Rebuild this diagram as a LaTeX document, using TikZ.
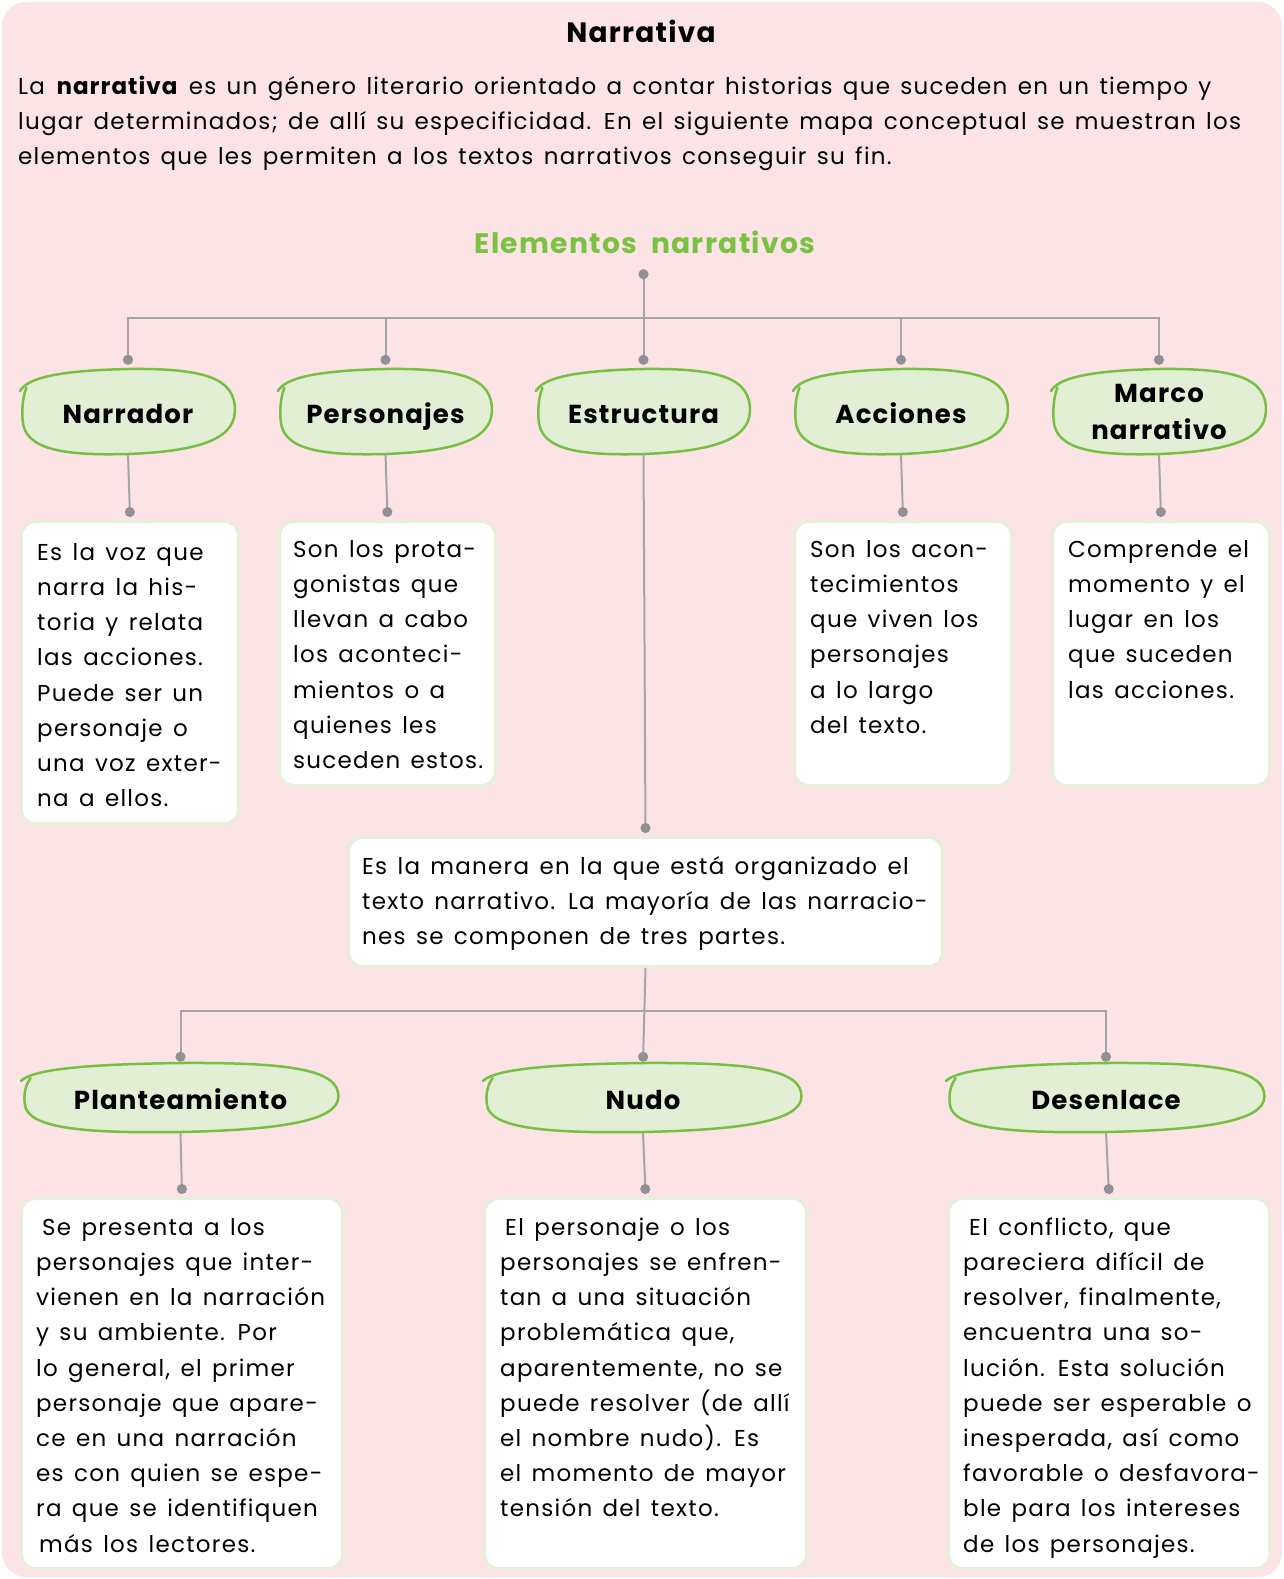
\documentclass[tikz,border=0pt]{standalone}
\usepackage{fontspec}
\setmainfont{Poppins}[LetterSpace=5.5, WordSpace=1.4, BoldFeatures={LetterSpace=4.5}]
\usetikzlibrary{arrows.meta}
\definecolor{pinkbg}{HTML}{FCE4E6}
\definecolor{gfill}{HTML}{E2EFD5}
\definecolor{gline}{HTML}{78C043}
\definecolor{wline}{HTML}{E4F0D9}
\definecolor{cline}{HTML}{A4A4A9}
\definecolor{cdotc}{HTML}{909095}
\definecolor{gtitle}{HTML}{7BC142}
\newcommand\btxt{\fontsize{23}{35.2}\selectfont}
\newcommand\fs{\rule{0pt}{30pt}}
\tikzset{
  conn/.style={draw=cline, line width=2pt},
  ndot/.tip={Circle[length=10pt,width=10pt,color=cdotc]},
  blobline/.style={fill=gfill, draw=gline, line width=2.5pt, line cap=round, line join=round},
  gbox/.style={inner sep=0pt, align=center, font=\fontsize{26}{37}\selectfont\bfseries,
     text height=28pt, text depth=5pt},
  wbox/.style={draw=wline, line width=3pt, fill=white, rounded corners=14pt,
     anchor=north west, inner sep=0pt},
  wtext/.style={anchor=north west, inner sep=0pt, align=left, font=\btxt},
}
\newcommand\gnode[7][]{%
  \pgfmathsetmacro\bw{#5-#3}\pgfmathsetmacro\bh{#6-#4}%
  \pgfmathsetmacro\bcx{(#3+#5)/2}\pgfmathsetmacro\bcy{(#4+#6)/2}%
  \begin{scope}[shift={(#3,#4)}, x=\bw pt, y=-\bh pt]
    \draw[blobline] (0.0,0.26) .. controls (0.03,0.12) and (0.15,0.02) .. (0.5,0.0)
      .. controls (0.85,-0.01) and (1.0,0.1) .. (0.995,0.5)
      .. controls (0.99,0.85) and (0.8,0.97) .. (0.5,1.0)
      .. controls (0.2,1.02) and (0.02,0.95) .. (0.012,0.6)
      .. controls (0.008,0.45) and (0.014,0.32) .. (0.03,0.22);
  \end{scope}
  \node[gbox, minimum width=\bw pt, minimum height=\bh pt, #1] (#2) at (\bcx,\bcy) {#7};
}
\begin{document}
\begin{tikzpicture}[x=1pt,y=-1pt]
\useasboundingbox (0,0) rectangle (1284,1579);
\fill[pinkbg, rounded corners=24pt] (2,2) rectangle (1282,1577);

% title and intro
\node[anchor=base, inner sep=0pt, font=\fontsize{28}{34}\selectfont\bfseries] (title) at (641,43) {Narrativa};
\node[wtext] (para) at (18,64) {\fs La \textbf{narrativa} es un género literario orientado a contar historias que suceden en un tiempo y\\
lugar determinados; de allí su especificidad. En el siguiente mapa conceptual se muestran los\\
elementos que les permiten a los textos narrativos conseguir su fin.};

\node[anchor=base, inner sep=0pt, text depth=0pt, text=gtitle, font=\fontsize{28.2}{34}\selectfont\bfseries] (elem) at (645,253) {Elementos\hspace{14pt}narrativos};

% first level
\gnode{narr}{20}{369}{236}{454}{Narrador}
\gnode{pers}{278}{369}{493}{454}{Personajes}
\gnode{estr}{536}{369}{751}{454}{Estructura}
\gnode{acc}{793}{369}{1009}{454}{Acciones}
\gnode[text height=, text depth=]{marco}{1051}{369}{1267}{454}{Marco\\narrativo}

\coordinate (ht) at (644,318);
\draw[conn, ndot-ndot] ([yshift=4pt]narr.north) |- (ht) -| ([yshift=4pt]marco.north);
\draw[conn, -ndot] (pers.north |- ht) -- ([yshift=4pt]pers.north);
\draw[conn, -ndot] (acc.north |- ht) -- ([yshift=4pt]acc.north);
\draw[conn, ndot-ndot] ([yshift=-16pt]elem.south -| estr.north) -- ([yshift=4pt]estr.north);

% description boxes, first level
\node[wbox, minimum width=217pt, minimum height=302pt] (dnarr) at (20,520) {};
\node[wbox, minimum width=216pt, minimum height=264pt] (dpers) at (278,520) {};
\node[wbox, minimum width=217pt, minimum height=264pt] (dacc) at (793,520) {};
\node[wbox, minimum width=217pt, minimum height=264pt] (dmarco) at (1051,520) {};
\node[wbox, minimum width=594pt, minimum height=129pt] (destr) at (347,836) {};

\draw[conn, -ndot] (narr.south) -- ([yshift=3pt]dnarr.north);
\draw[conn, -ndot] (pers.south) -- ([yshift=3pt]dpers.north);
\draw[conn, -ndot] (acc.south) -- ([yshift=3pt]dacc.north);
\draw[conn, -ndot] (marco.south) -- ([yshift=3pt]dmarco.north);
\draw[conn, -ndot] (estr.south) -- ([yshift=3pt]destr.north);

\node[wtext] (tnarr) at (37,530) {\fs Es la voz que\\narra la his-\\toria y relata\\las acciones.\\Puede ser un\\personaje o\\una voz exter-\\na a ellos.};
\node[wtext] (tpers) at (293,527) {\fs Son los prota-\\gonistas que\\llevan a cabo\\los aconteci-\\mientos o a\\quienes les\\suceden estos.};
\node[wtext] (tacc) at (810,527) {\fs Son los acon-\\tecimientos\\que viven los\\personajes\\a lo largo\\del texto.};
\node[wtext] (tmarco) at (1068,527) {\fs Comprende el\\momento y el\\lugar en los\\que suceden\\las acciones.};
\node[wtext] (testr) at (362,844) {\fs Es la manera en la que está organizado el\\texto narrativo. La mayoría de las narracio-\\nes se componen de tres partes.};

% second level
\gnode{plan}{21}{1063}{340}{1132}{Planteamiento}
\gnode{nudo}{483}{1063}{803}{1132}{Nudo}
\gnode{desen}{946}{1063}{1266}{1132}{Desenlace}

\coordinate (hb) at (644,1011);
\draw[conn, ndot-ndot] ([yshift=1pt]plan.north) |- (hb) -| ([yshift=1pt]desen.north);
\draw[conn, -ndot] (destr.south) -- ([yshift=1pt]nudo.north);

\node[wbox, minimum width=321pt, minimum height=370pt] (dplan) at (20,1197) {};
\node[wbox, minimum width=322pt, minimum height=370pt] (dnudo) at (483,1197) {};
\node[wbox, minimum width=321pt, minimum height=370pt] (ddesen) at (947,1197) {};

\draw[conn, -ndot] (plan.south) -- ([yshift=3pt]dplan.north);
\draw[conn, -ndot] (nudo.south) -- ([yshift=3pt]dnudo.north);
\draw[conn, -ndot] (desen.south) -- ([yshift=3pt]ddesen.north);

\node[wtext] (tplan) at (36,1205) {\fs\hspace{6pt}Se presenta a los\\personajes que inter-\\vienen en la narración\\y su ambiente. Por\\lo general, el primer\\personaje que apare-\\ce en una narración\\es con quien se espe-\\ra que se identifiquen\\\hspace{3pt}más los lectores.};
\node[wtext] (tnudo) at (500,1205) {\fs\hspace{5pt}El personaje o los\\personajes se enfren-\\tan a una situación\\problemática que,\\aparentemente, no se\\puede resolver (de allí\\el nombre nudo). Es\\el momento de mayor\\tensión del texto.};
\node[wtext] (tdesen) at (963,1205) {\fs\hspace{6pt}El conflicto, que\\pareciera difícil de\\resolver, finalmente,\\encuentra una so-\\lución. Esta solución\\puede ser esperable o\\inesperada, así como\\favorable o desfavora-\\ble para los intereses\\de los personajes.};
\end{tikzpicture}
\end{document}
